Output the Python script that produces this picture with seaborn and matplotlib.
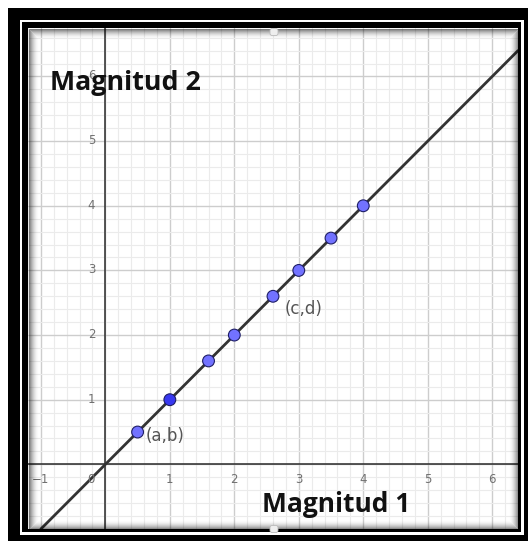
import numpy as np
import pandas as pd
import matplotlib
matplotlib.use("Agg")
import matplotlib.pyplot as plt
from matplotlib.patches import Rectangle, FancyBboxPatch
import seaborn as sns

# Points lying on the proportionality line y = slope * x
point_x = [0.5, 1.0, 1.6, 2.0, 2.6, 3.0, 3.5, 4.0]
point_y = [0.5, 1.0, 1.6, 2.0, 2.6, 3.0, 3.5, 4.0]
selected = [False, True, False, False, False, False, False, False]
slope = 1.0

# Named points and axis captions
point_names = ["(a,b)", "(c,d)"]
named_index = [0, 4]
x_title = "Magnitud 1"
y_title = "Magnitud 2"

# Axis numbering
x_tick_labels = [-1, 1, 2, 3, 4, 5, 6]
y_tick_labels = [1, 2, 3, 4, 5, 6]

sns.set_theme(style="white")
plt.rcParams["font.family"] = ["DejaVu Sans"]

W, H = 528, 541
fig = plt.figure(figsize=(W / 100, H / 100), dpi=100)
fig.patch.set_facecolor("white")


def frac(x0, y0, x1, y1):
    """Pixel box (top-left origin) -> figure-fraction rectangle."""
    return (x0 / W, 1 - y1 / H, (x1 - x0) / W, (y1 - y0) / H)


# Double frame around the drawing pad
for (box, col, z) in [((8, 8, 540, 560), "black", -3),
                      ((20, 20, 524, 535), "white", -2),
                      ((22, 22, 521, 532), "black", -1)]:
    l, b, w, h = frac(*box)
    fig.add_artist(Rectangle((l, b), w, h, transform=fig.transFigure,
                             facecolor=col, edgecolor="none", zorder=z))

ax = fig.add_axes(frac(28, 28, 518, 529))
ax.set_facecolor("white")
ax.set_xlim(-1.15, 6.39)
ax.set_ylim(-0.96, 6.75)

# GeoGebra-like grid: unit lines plus fifths
ax.set_xticks(np.arange(-1, 7))
ax.set_yticks(np.arange(-1, 7))
ax.set_xticks(np.arange(-1.2, 6.5, 0.2), minor=True)
ax.set_yticks(np.arange(-1.0, 6.8, 0.2), minor=True)
ax.grid(which="major", color="#cdcdcd", lw=1.0)
ax.grid(which="minor", color="#ebebeb", lw=0.8)
ax.set_axisbelow(True)
ax.tick_params(which="both", length=0, labelbottom=False, labelleft=False)
for s in ax.spines.values():
    s.set_visible(False)

# Coordinate axes
ax.axhline(0, color="#2a2a2a", lw=1.1, zorder=2)
ax.axvline(0, color="#2a2a2a", lw=1.1, zorder=2)

# The line through the origin
ax.axline((0, 0), slope=slope, color="#333333", lw=2.0, zorder=3)

df = pd.DataFrame({"x": point_x, "y": point_y, "sel": selected})
sns.scatterplot(data=df, x="x", y="y", hue="sel",
                palette={False: "#7272ff", True: "#3838f0"},
                s=72, edgecolor="#1e1e66", linewidth=0.8,
                legend=False, zorder=4, ax=ax)
ax.set_xlabel("")
ax.set_ylabel("")

# Axis numbers
num_kw = dict(color="#707070", fontsize=8.5, textcoords="offset points",
              annotation_clip=False)
for t in x_tick_labels:
    lab = f"−{abs(t)}" if t < 0 else str(t)
    ax.annotate(lab, (t, 0), xytext=(0, -10.8), ha="center", va="center", **num_kw)
for t in y_tick_labels:
    ax.annotate(str(t), (0, t), xytext=(-10, 0.5), ha="center", va="center",
                zorder=1, **num_kw)
ax.annotate("0", (0, 0), xytext=(-10.5, -10.8), ha="center", va="center", **num_kw)

# Point names
offsets = [(5.5, -2.7), (8.5, -9.2)]
for name, i, off in zip(point_names, named_index, offsets):
    ax.annotate(name, (point_x[i], point_y[i]), xytext=off,
                textcoords="offset points", ha="left", va="center",
                color="#555555", fontsize=12)

# Captions
fig.text(50 / W, 1 - 89.5 / H, y_title, ha="left", va="baseline",
         fontsize=19.3, fontweight="bold", family="Open Sans", color="#111111")
fig.text(262 / W, 1 - 511.5 / H, x_title, ha="left", va="baseline",
         fontsize=19.0, fontweight="bold", family="Open Sans", color="#111111")

# Small resize handles on the pad border
for (cx, cy) in [(274, 32), (274, 529)]:
    l, b, w, h = frac(cx - 4, cy - 3.5, cx + 4, cy + 3.5)
    fig.add_artist(FancyBboxPatch((l, b), w, h, transform=fig.transFigure,
                                  boxstyle="round,pad=0,rounding_size=0.004",
                                  facecolor="#eeeeee", edgecolor="#bbbbbb",
                                  lw=0.6, zorder=6))

# Inset shadow along the pad edges
for i in range(10):
    l, b, w, h = frac(28 + i + 0.5, 28 + i + 0.5, 518 - i - 0.5, 529 - i - 0.5)
    a = 0.5 * (1 - i / 10) ** 2
    fig.add_artist(Rectangle((l, b), w, h, transform=fig.transFigure,
                             fill=False, edgecolor="black", lw=0.75,
                             alpha=a, zorder=5))

fig.savefig("out.png", dpi=100)
